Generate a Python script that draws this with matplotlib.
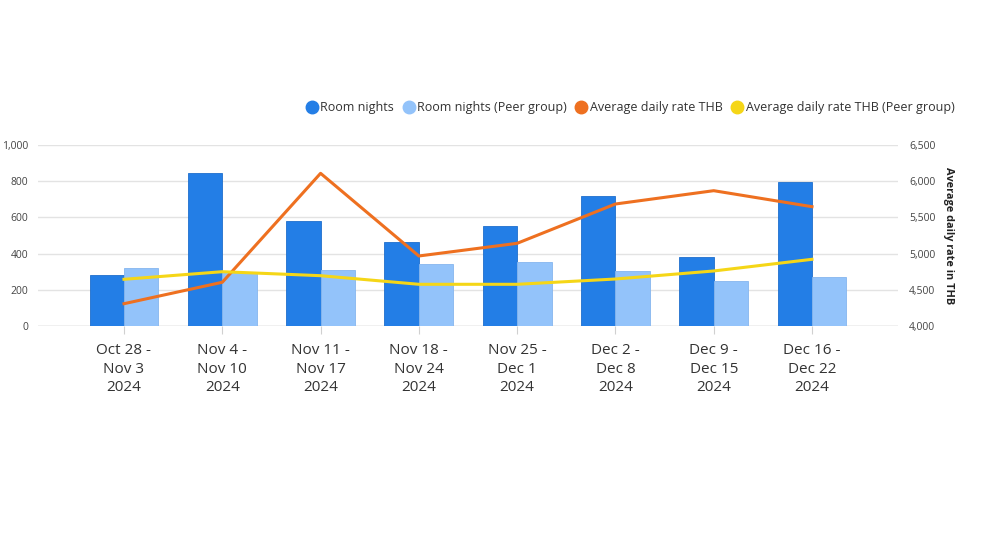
import matplotlib.pyplot as plt
from matplotlib.lines import Line2D
import numpy as np

plt.rcParams['font.family'] = ['Open Sans', 'DejaVu Sans']

weeks = ["Oct 28 -\nNov 3\n2024", "Nov 4 -\nNov 10\n2024", "Nov 11 -\nNov 17\n2024",
         "Nov 18 -\nNov 24\n2024", "Nov 25 -\nDec 1\n2024", "Dec 2 -\nDec 8\n2024",
         "Dec 9 -\nDec 15\n2024", "Dec 16 -\nDec 22\n2024"]
room_nights = [284, 844, 580, 466, 552, 718, 381, 794]
room_nights_peer = [320, 300, 311, 344, 355, 304, 247, 269]
adr = [4308, 4604, 6109, 4967, 5142, 5685, 5869, 5648]
adr_peer = [4645, 4750, 4695, 4576, 4576, 4649, 4760, 4921]

c_dark = "#237EE6"
c_light = "#93C3FA"
c_orange = "#EE7020"
c_yellow = "#F5D617"

fig = plt.figure(figsize=(10, 5.45), dpi=100)
ax = fig.add_axes([0.038, 1 - 326 / 545, 0.86, 181 / 545])
x = np.arange(len(weeks))
w = 0.35

ax.bar(x - w / 2, room_nights, w, color=c_dark, edgecolor="#1F6FCC", linewidth=0.6, zorder=2)
ax.bar(x + w / 2, room_nights_peer, w, color=c_light, edgecolor="#86B6EE", linewidth=0.6, zorder=2)
ax.set_ylim(0, 1000)
ax.set_xlim(-0.875, len(weeks) - 1 + 0.875)
ax.set_yticks(range(0, 1001, 200))
ax.set_yticklabels([f"{v:,}" for v in range(0, 1001, 200)])
ax.grid(axis="y", color="#E3E3E3", linewidth=1, zorder=0)
ax.set_axisbelow(True)
for s in ax.spines.values():
    s.set_visible(False)
ax.axhline(0, color="#D0D0D0", linewidth=1, zorder=1)
ax.set_xticks(x)
ax.set_xticklabels(weeks, fontsize=11, color="#333333", linespacing=1.35)
ax.tick_params(axis="x", length=6, color="#D0D0D0", pad=6)
ax.tick_params(axis="y", length=0, labelsize=7.5, labelcolor="#444444", pad=7)

ax2 = ax.twinx()
ax2.plot(x, adr, color=c_orange, linewidth=2.2, zorder=3)
ax2.plot(x, adr_peer, color=c_yellow, linewidth=2.2, zorder=3)
ax2.set_ylim(4000, 6500)
ax2.set_yticks(range(4000, 6501, 500))
ax2.set_yticklabels([f"{v:,}" for v in range(4000, 6501, 500)])
ax2.tick_params(axis="y", length=0, labelsize=7.5, labelcolor="#444444", pad=8)
for s in ax2.spines.values():
    s.set_visible(False)
ax2.set_ylabel("Average daily rate in THB", rotation=-90, fontsize=7.8,
               fontweight="bold", color="#222222", labelpad=13)

handles = [Line2D([], [], marker="o", linestyle="", markersize=9, color=c) for c in
           [c_dark, c_light, c_orange, c_yellow]]
labels = ["Room nights", "Room nights (Peer group)", "Average daily rate THB",
          "Average daily rate THB (Peer group)"]
fig.legend(handles, labels, loc="center right", bbox_to_anchor=(0.966, 1 - 108 / 545),
           ncol=4, frameon=False, fontsize=9, handletextpad=0.25, columnspacing=0.7,
           handlelength=0.9, labelcolor="#333333")

fig.savefig("out.png", dpi=100, facecolor="white")
